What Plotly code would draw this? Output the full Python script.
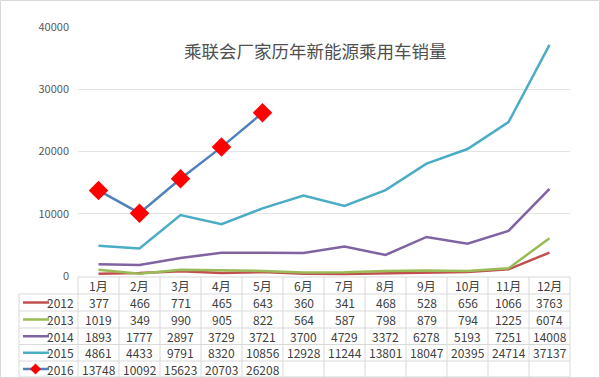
import plotly.graph_objects as go

months = ["1月", "2月", "3月", "4月", "5月", "6月", "7月", "8月", "9月", "10月", "11月", "12月"]
years = ["2012", "2013", "2014", "2015", "2016"]
s2012 = [377, 466, 771, 465, 643, 360, 341, 468, 528, 656, 1066, 3763]
s2013 = [1019, 349, 990, 905, 822, 564, 587, 798, 879, 794, 1225, 6074]
s2014 = [1893, 1777, 2897, 3729, 3721, 3700, 4729, 3372, 6278, 5193, 7251, 14008]
s2015 = [4861, 4433, 9791, 8320, 10856, 12928, 11244, 13801, 18047, 20395, 24714, 37137]
s2016 = [13748, 10092, 15623, 20703, 26208]
series = [s2012, s2013, s2014, s2015, s2016]
colors = ["#C0504D", "#9BBB59", "#8064A2", "#4BACC6", "#4F81BD"]
title = "乘联会厂家历年新能源乘用车销量"

W, H = 600, 378
L, R, T, B = 78, 570, 27, 276
PW, PH = R - L, B - T

def xp(px):
    return (px - L) / PW

def yp(py):
    return (B - py) / PH

fig = go.Figure()
for i, (name, vals, col) in enumerate(zip(years, series, colors)):
    if name == "2016":
        fig.add_trace(go.Scatter(x=months[:len(vals)], y=vals, mode="lines+markers", name=name,
                                 line=dict(color=col, width=2.5),
                                 marker=dict(symbol="diamond", size=15, color="#FF0000",
                                             line=dict(width=0))))
    else:
        fig.add_trace(go.Scatter(x=months[:len(vals)], y=vals, mode="lines", name=name,
                                 line=dict(color=col, width=2.5)))

font_main = "Noto Sans CJK SC, Microsoft YaHei, sans-serif"
text_col = "#404040"
annotations = []
shapes = []

# title
annotations.append(dict(text=title, x=xp(315), y=yp(51), xref="paper", yref="paper",
                        showarrow=False, xanchor="center", yanchor="middle",
                        font=dict(family=font_main, size=17.5, color="#505050")))

row_bounds = [277, 294, 311, 328, 344.5, 361, 377]
row_centers = [(row_bounds[i] + row_bounds[i + 1]) / 2 for i in range(6)]

# header
for m in months:
    annotations.append(dict(text=m, x=m, y=yp(row_centers[0]), xref="x", yref="paper",
                            showarrow=False, xanchor="center", yanchor="middle",
                            font=dict(family=font_main, size=12, color=text_col)))
# values
for r, (name, vals, col) in enumerate(zip(years, series, colors)):
    yc = yp(row_centers[r + 1])
    for m, v in zip(months, vals):
        annotations.append(dict(text=str(v), x=m, y=yc, xref="x", yref="paper",
                                showarrow=False, xanchor="center", yanchor="middle",
                                font=dict(family=font_main, size=12, color=text_col)))
    annotations.append(dict(text=name, x=xp(76), y=yc, xref="paper", yref="paper",
                            showarrow=False, xanchor="right", yanchor="middle",
                            font=dict(family=font_main, size=12, color=text_col)))
    shapes.append(dict(type="line", xref="paper", yref="paper", x0=xp(23), x1=xp(49),
                       y0=yc, y1=yc, line=dict(color=col, width=2.5)))
    if name == "2016":
        cx, cy, d = 35.5, row_centers[r + 1], 5.5
        path = "M {} {} L {} {} L {} {} L {} {} Z".format(
            xp(cx - d), yc, xp(cx), yp(cy - d), xp(cx + d), yc, xp(cx), yp(cy + d))
        shapes.append(dict(type="path", xref="paper", yref="paper", path=path,
                           fillcolor="#FF0000", line=dict(width=0)))

grid_col = "#D9D9D9"
# horizontal table lines
shapes.append(dict(type="line", xref="paper", yref="paper", x0=0, x1=1, y0=yp(277), y1=yp(277),
                   line=dict(color=grid_col, width=1)))
for yb in row_bounds[1:]:
    shapes.append(dict(type="line", xref="paper", yref="paper", x0=xp(19), x1=1, y0=yp(yb), y1=yp(yb),
                       line=dict(color=grid_col, width=1)))
# vertical table lines
for k in range(13):
    x = xp(L + k * PW / 12)
    shapes.append(dict(type="line", xref="paper", yref="paper", x0=x, x1=x, y0=yp(277), y1=yp(377),
                       line=dict(color=grid_col, width=1)))
shapes.append(dict(type="line", xref="paper", yref="paper", x0=xp(19), x1=xp(19), y0=yp(294), y1=yp(377),
                   line=dict(color=grid_col, width=1)))
# outer frame
shapes.append(dict(type="rect", xref="paper", yref="paper", x0=xp(0.5), x1=xp(599.5), y0=yp(0.5), y1=yp(377.5),
                   line=dict(color="#D9D9D9", width=1), fillcolor="rgba(0,0,0,0)"))

fig.update_layout(
    width=W, height=H,
    margin=dict(l=L, r=W - R, t=T, b=H - B),
    paper_bgcolor="white", plot_bgcolor="white",
    showlegend=False,
    xaxis=dict(type="category", categoryarray=months, range=[-0.5, 11.5],
               showticklabels=False, showgrid=False, zeroline=False, showline=False, ticks=""),
    yaxis=dict(range=[0, 40000], tickvals=[0, 10000, 20000, 30000, 40000],
               ticktext=["0", "10000", "20000", "30000", "40000"],
               showgrid=True, gridcolor="#E3E3E3", gridwidth=1, zeroline=False, showline=False,
               ticks="", ticklabelstandoff=8,
               tickfont=dict(family=font_main, size=11, color="#595959")),
    annotations=annotations,
    shapes=shapes,
)

fig.write_html("out.html", config={"displayModeBar": False},
               post_script="document.body.style.margin='0';document.body.style.overflow='hidden';")
